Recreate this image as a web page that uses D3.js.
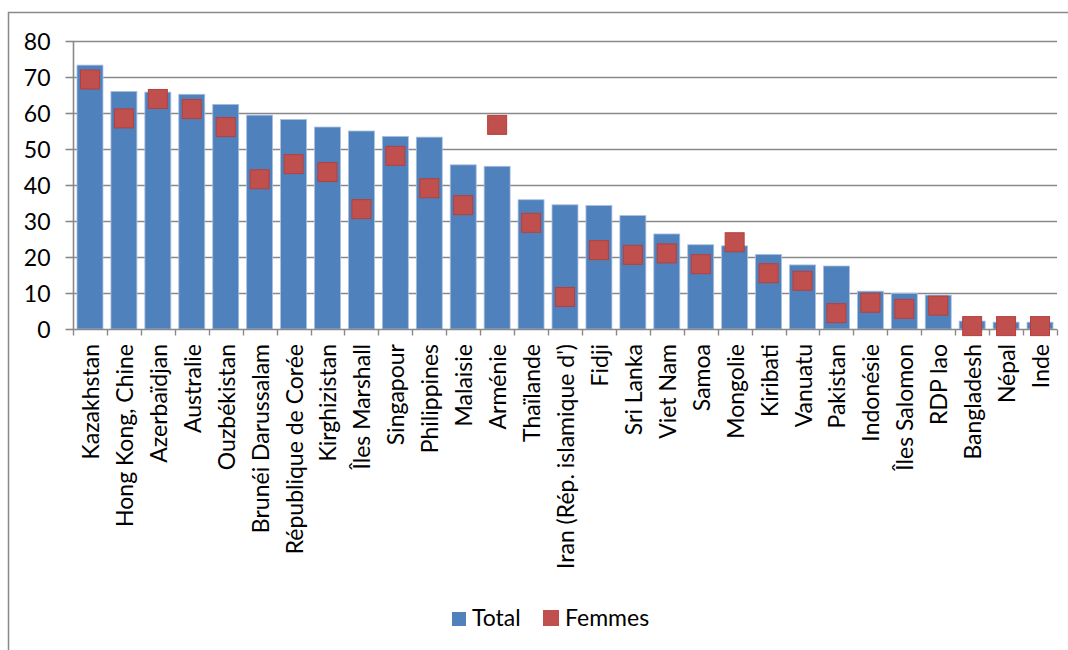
<!DOCTYPE html>
<html>
<head>
<meta charset="utf-8">
<script src="https://cdn.jsdelivr.net/npm/d3@7"></script>
<style>
  body { margin: 0; background: #fff; }
  svg text { font-family: Lato, "Open Sans", sans-serif; fill: #000; }
</style>
</head>
<body>
<div id="chart"></div>
<script>
// Bar (Total) + square markers (Femmes), one column per country

const countries = [
  'Kazakhstan', 'Hong Kong, Chine', 'Azerbaïdjan', 'Australie', 'Ouzbékistan',
  'Brunéi Darussalam', 'République de Corée', 'Kirghizistan', 'Îles Marshall',
  'Singapour', 'Philippines', 'Malaisie', 'Arménie', 'Thaïlande',
  "Iran (Rép. islamique d')", 'Fidji', 'Sri Lanka', 'Viet Nam', 'Samoa',
  'Mongolie', 'Kiribati', 'Vanuatu', 'Pakistan', 'Indonésie', 'Îles Salomon',
  'RDP lao', 'Bangladesh', 'Népal', 'Inde'
];

const total = [
  73.3, 66.0, 65.8, 65.2, 62.4, 59.4, 58.2, 56.1, 55.0, 53.5,
  53.3, 45.6, 45.2, 35.9, 34.5, 34.3, 31.5, 26.4, 23.4, 23.1,
  20.7, 17.8, 17.5, 10.5, 9.9, 9.4, 2.2, 1.9, 1.9
];

const femmes = [
  69.3, 58.5, 63.9, 61.1, 56.1, 41.6, 45.8, 43.6, 33.3, 48.1,
  39.1, 34.4, 56.7, 29.5, 8.9, 21.9, 20.6, 21.0, 18.0, 24.1,
  15.5, 13.4, 4.4, 7.3, 5.6, 6.5, 0.8, 0.8, 0.8
];

const yTicks = [0, 10, 20, 30, 40, 50, 60, 70, 80];
const legendLabels = ['Total', 'Femmes'];

const width = 1068;
const height = 650;
const plot = { left: 73, right: 1057, top: 41, bottom: 329 };

const blue = '#4F81BD';
const red = '#C0504D';
const gridColor = '#898989';

const svg = d3.select('#chart')
  .append('svg')
  .attr('width', width)
  .attr('height', height);

// outer chart frame (only top and left edges are visible in the picture)
svg.append('path')
  .attr('d', `M8.5,${height} V12.5 H${width}`)
  .attr('fill', 'none')
  .attr('stroke', gridColor)
  .attr('stroke-width', 1.5);

const x = d3.scaleBand()
  .domain(countries)
  .range([plot.left, plot.right])
  .paddingInner(0.235)
  .paddingOuter(0.118);

const y = d3.scaleLinear()
  .domain([0, 80])
  .range([plot.bottom, plot.top]);

// horizontal gridlines
svg.append('g')
  .selectAll('line')
  .data(yTicks.filter(d => d > 0))
  .enter().append('line')
  .attr('x1', plot.left)
  .attr('x2', plot.right)
  .attr('y1', d => Math.round(y(d)) + 0.5)
  .attr('y2', d => Math.round(y(d)) + 0.5)
  .attr('stroke', gridColor)
  .attr('stroke-width', 1.6);

// bars
svg.append('g')
  .selectAll('rect')
  .data(countries)
  .enter().append('rect')
  .attr('x', d => x(d))
  .attr('width', x.bandwidth())
  .attr('y', (d, i) => y(total[i]))
  .attr('height', (d, i) => y(0) - y(total[i]))
  .attr('fill', blue)
  .attr('stroke', '#a9c0e0')
  .attr('stroke-width', 0.8);

// y axis
const yAxis = svg.append('g')
  .attr('transform', `translate(${plot.left + 0.5},0)`)
  .call(d3.axisLeft(y).tickValues(yTicks).tickSize(8).tickPadding(6).tickFormat(d3.format('d')));
yAxis.selectAll('path, line').attr('stroke', gridColor).attr('stroke-width', 1.6);
yAxis.select('.domain').attr('d', `M0,${plot.top} V${plot.bottom}`);
yAxis.selectAll('text')
  .style('font-size', '23px')
  .attr('x', -23)
  .attr('dy', '0.36em');

// x axis line and tick marks at category boundaries
const xAxisG = svg.append('g')
  .attr('transform', `translate(0,${Math.round(y(0)) + 0.5})`);
xAxisG.append('line')
  .attr('x1', plot.left)
  .attr('x2', plot.right)
  .attr('stroke', gridColor)
  .attr('stroke-width', 1.6);
const bounds = d3.range(countries.length + 1)
  .map(i => plot.left + i * (plot.right - plot.left) / countries.length);
xAxisG.selectAll('.tick')
  .data(bounds)
  .enter().append('line')
  .attr('x1', d => Math.round(d) + 0.5)
  .attr('x2', d => Math.round(d) + 0.5)
  .attr('y1', 0)
  .attr('y2', 6)
  .attr('stroke', gridColor)
  .attr('stroke-width', 1.4);

// rotated category labels
svg.append('g')
  .selectAll('text')
  .data(countries)
  .enter().append('text')
  .attr('transform', d => `translate(${x(d) + x.bandwidth() / 2 + 9},344) rotate(-90)`)
  .attr('text-anchor', 'end')
  .style('font-size', '23px')
  .text(d => d);

// Femmes markers
const m = 19;
svg.append('g')
  .selectAll('rect')
  .data(countries)
  .enter().append('rect')
  .attr('x', d => x(d) + x.bandwidth() / 2 - m / 2)
  .attr('y', (d, i) => y(femmes[i]) - m / 2)
  .attr('width', m)
  .attr('height', m)
  .attr('fill', red)
  .attr('stroke', '#b5403d')
  .attr('stroke-width', 1);

// legend
const legend = svg.append('g');
const legendItems = [
  { label: legendLabels[0], color: blue, x: 452, size: 14, y: 612 },
  { label: legendLabels[1], color: red, x: 543, size: 16, y: 610 }
];
legendItems.forEach(item => {
  legend.append('rect')
    .attr('x', item.x)
    .attr('y', item.y)
    .attr('width', item.size)
    .attr('height', item.size)
    .attr('fill', item.color);
  legend.append('text')
    .attr('x', item.x + item.size + 6)
    .attr('y', 626)
    .style('font-size', '23px')
    .text(item.label);
});
</script>
</body>
</html>
